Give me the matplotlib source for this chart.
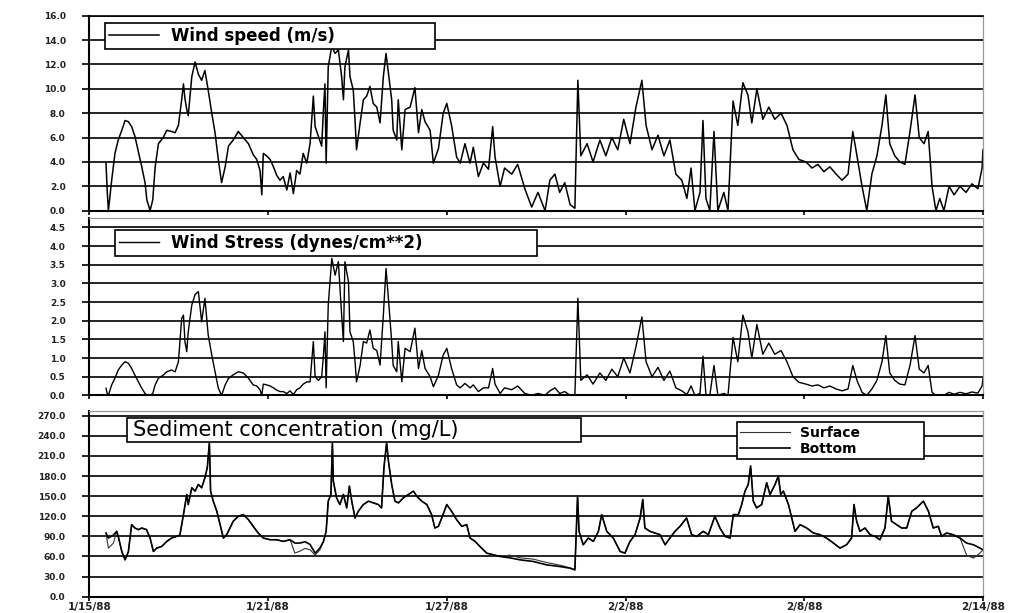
import matplotlib
matplotlib.use("Agg")
import matplotlib.pyplot as plt
from matplotlib.patches import Rectangle

# ---------------- data ----------------
tick_days = [0, 6, 12, 18, 24, 30]
tick_labels = ["1/15/88", "1/21/88", "1/27/88", "2/2/88", "2/8/88", "2/14/88"]

speed_ticks = [0, 2, 4, 6, 8, 10, 12, 14, 16]
stress_ticks = [0, 0.5, 1.0, 1.5, 2.0, 2.5, 3.0, 3.5, 4.0, 4.5]
sed_ticks = [0, 30, 60, 90, 120, 150, 180, 210, 240, 270]

# days since 1/15/88
wind_day = [
    0.56, 0.60, 0.64, 0.75, 0.86, 0.97, 1.09, 1.20, 1.31, 1.42,
    1.53, 1.65, 1.76, 1.87, 1.93, 2.04, 2.13, 2.21, 2.32, 2.48,
    2.60, 2.76, 2.88, 2.99, 3.10, 3.16, 3.21, 3.27, 3.32, 3.44,
    3.55, 3.66, 3.77, 3.88, 3.99, 4.11, 4.22, 4.33, 4.44, 4.56,
    4.67, 4.83, 5.00, 5.17, 5.34, 5.50, 5.62, 5.73, 5.79, 5.84,
    5.95, 6.07, 6.18, 6.29, 6.40, 6.51, 6.63, 6.74, 6.85, 6.96,
    7.07, 7.18, 7.30, 7.41, 7.52, 7.58, 7.69, 7.80, 7.86, 7.91,
    7.95, 8.02, 8.14, 8.25, 8.36, 8.47, 8.53, 8.58, 8.70, 8.75,
    8.86, 8.92, 8.97, 9.09, 9.20, 9.31, 9.42, 9.53, 9.65, 9.76,
    9.87, 9.96, 10.04, 10.15, 10.20, 10.32, 10.37, 10.49, 10.60, 10.77,
    10.93, 11.05, 11.16, 11.27, 11.44, 11.55, 11.72, 11.88, 12.00, 12.16,
    12.33, 12.45, 12.61, 12.78, 12.89, 13.06, 13.23, 13.40, 13.54, 13.62,
    13.79, 13.94, 14.18, 14.38, 14.62, 14.85, 15.06, 15.30, 15.46, 15.63,
    15.79, 15.96, 16.14, 16.30, 16.40, 16.50, 16.71, 16.91, 17.14, 17.34,
    17.54, 17.74, 17.94, 18.15, 18.35, 18.55, 18.69, 18.89, 19.09, 19.29,
    19.49, 19.69, 19.89, 20.06, 20.20, 20.33, 20.50, 20.60, 20.70, 20.83,
    20.97, 21.10, 21.30, 21.44, 21.61, 21.77, 21.94, 22.11, 22.24, 22.41,
    22.61, 22.81, 23.01, 23.22, 23.42, 23.62, 23.82, 24.06, 24.26, 24.46,
    24.66, 24.86, 25.07, 25.27, 25.47, 25.63, 25.77, 25.94, 26.10, 26.27,
    26.44, 26.61, 26.74, 26.87, 27.04, 27.21, 27.38, 27.55, 27.72, 27.86,
    28.02, 28.16, 28.29, 28.42, 28.55, 28.69, 28.86, 29.03, 29.23, 29.43,
    29.63, 29.83, 29.97, 30.00,
]

wind_speed = [
    3.9, 1.6, 0.0, 2.5, 4.7, 5.8, 6.6, 7.4, 7.3, 6.9,
    6.1, 4.8, 3.6, 2.3, 0.9, 0.0, 0.9, 3.6, 5.5, 6.0,
    6.6, 6.5, 6.4, 7.0, 9.1, 10.4, 9.2, 8.3, 7.8, 11.0,
    12.2, 11.2, 10.7, 11.5, 9.9, 8.0, 6.4, 4.2, 2.3, 3.6,
    5.3, 5.8, 6.5, 6.0, 5.5, 4.6, 4.2, 3.3, 1.3, 4.7,
    4.5, 4.2, 3.6, 2.9, 2.5, 2.8, 1.7, 3.1, 1.4, 3.3,
    3.0, 4.7, 3.9, 5.5, 9.4, 6.9, 6.1, 5.3, 8.3, 10.4,
    3.9, 11.8, 13.5, 12.9, 13.2, 11.0, 9.1, 11.8, 13.2, 11.0,
    9.9, 7.4, 5.0, 7.2, 9.1, 9.4, 10.2, 8.8, 8.5, 7.2,
    11.0, 12.9, 11.3, 9.1, 6.6, 5.8, 9.1, 5.0, 8.3, 8.5,
    10.1, 6.4, 8.3, 7.3, 6.6, 3.9, 5.1, 8.0, 8.8, 7.0,
    4.4, 3.9, 5.5, 3.9, 5.2, 2.8, 3.9, 3.4, 6.9, 4.4,
    2.0, 3.5, 3.0, 3.8, 1.8, 0.3, 1.5, 0.0, 2.5, 3.0,
    1.5, 2.3, 0.5, 0.2, 10.7, 4.5, 5.5, 4.0, 5.8, 4.5,
    6.0, 5.0, 7.5, 5.5, 8.5, 10.7, 7.0, 5.0, 6.2, 4.5,
    5.8, 3.0, 2.5, 1.0, 3.5, 0.0, 1.5, 7.4, 1.0, 0.0,
    6.5, 0.0, 1.5, 0.0, 9.0, 7.0, 10.5, 9.5, 7.2, 10.0,
    7.5, 8.5, 7.5, 8.0, 7.0, 5.0, 4.2, 4.0, 3.5, 3.8,
    3.2, 3.6, 3.0, 2.5, 3.0, 6.5, 4.5, 2.0, 0.0, 3.0,
    4.5, 7.0, 9.5, 5.5, 4.5, 4.0, 3.8, 6.5, 9.5, 6.0,
    5.5, 6.5, 2.0, 0.0, 1.0, 0.0, 2.0, 1.3, 2.0, 1.5,
    2.2, 1.8, 3.5, 5.0,
]

wind_stress = [
    0.19, 0.05, 0.0, 0.28, 0.46, 0.68, 0.81, 0.90, 0.86, 0.72,
    0.54, 0.36, 0.19, 0.05, 0.01, 0.0, 0.05, 0.28, 0.46, 0.54,
    0.63, 0.68, 0.63, 0.90, 2.06, 2.15, 1.44, 1.17, 1.70, 2.42,
    2.70, 2.78, 1.97, 2.60, 1.62, 1.08, 0.63, 0.19, 0.0, 0.28,
    0.45, 0.55, 0.63, 0.60, 0.46, 0.28, 0.25, 0.15, 0.0, 0.30,
    0.28, 0.25, 0.20, 0.14, 0.10, 0.10, 0.05, 0.12, 0.02, 0.15,
    0.20, 0.30, 0.36, 0.36, 1.44, 0.50, 0.40, 0.50, 1.08, 1.70,
    0.20, 2.42, 3.67, 3.22, 3.58, 2.15, 1.44, 3.58, 3.04, 1.70,
    1.44, 0.90, 0.36, 0.80, 1.44, 1.40, 1.75, 1.26, 1.20, 0.81,
    2.15, 3.40, 2.60, 1.44, 0.80, 0.63, 1.44, 0.36, 1.26, 1.17,
    1.80, 0.72, 1.20, 0.72, 0.50, 0.23, 0.54, 1.08, 1.26, 0.72,
    0.28, 0.20, 0.32, 0.20, 0.28, 0.10, 0.20, 0.20, 0.72, 0.30,
    0.05, 0.20, 0.15, 0.25, 0.05, 0.0, 0.05, 0.0, 0.12, 0.20,
    0.05, 0.10, 0.0, 0.0, 2.60, 0.40, 0.55, 0.30, 0.60, 0.40,
    0.70, 0.50, 1.00, 0.60, 1.30, 2.10, 0.90, 0.50, 0.75, 0.40,
    0.65, 0.20, 0.12, 0.02, 0.25, 0.0, 0.05, 1.05, 0.02, 0.0,
    0.80, 0.0, 0.05, 0.0, 1.55, 0.90, 2.15, 1.70, 1.00, 1.90,
    1.10, 1.40, 1.10, 1.20, 0.90, 0.50, 0.35, 0.30, 0.25, 0.28,
    0.20, 0.25, 0.17, 0.12, 0.17, 0.80, 0.40, 0.08, 0.0, 0.17,
    0.40, 0.90, 1.60, 0.60, 0.40, 0.30, 0.28, 0.80, 1.60, 0.70,
    0.60, 0.80, 0.08, 0.0, 0.02, 0.0, 0.08, 0.03, 0.08, 0.04,
    0.09, 0.06, 0.25, 0.45,
]

sed_day = [
    0.56, 0.64, 0.81, 0.92, 0.97, 1.09, 1.20, 1.31, 1.42, 1.53,
    1.65, 1.76, 1.92, 2.04, 2.15, 2.26, 2.43, 2.60, 2.76, 2.93,
    3.04, 3.16, 3.27, 3.32, 3.44, 3.55, 3.66, 3.77, 3.88, 3.96,
    4.03, 4.07, 4.16, 4.28, 4.39, 4.50, 4.61, 4.72, 4.83, 5.00,
    5.17, 5.34, 5.50, 5.67, 5.84, 6.07, 6.29, 6.51, 6.74, 6.90,
    7.07, 7.24, 7.41, 7.58, 7.74, 7.86, 7.95, 8.02, 8.11, 8.16,
    8.19, 8.30, 8.41, 8.53, 8.64, 8.73, 8.81, 8.92, 9.03, 9.20,
    9.37, 9.53, 9.70, 9.81, 9.89, 9.98, 10.04, 10.15, 10.26, 10.38,
    10.54, 10.71, 10.88, 10.99, 11.16, 11.33, 11.49, 11.60, 11.72, 11.83,
    12.00, 12.16, 12.33, 12.50, 12.67, 12.78, 12.95, 13.11, 13.34, 13.56,
    13.79, 14.12, 14.46, 14.91, 15.35, 15.80, 16.14, 16.30, 16.39, 16.44,
    16.58, 16.75, 16.92, 17.09, 17.20, 17.37, 17.59, 17.82, 17.98, 18.15,
    18.32, 18.49, 18.58, 18.65, 18.82, 18.99, 19.16, 19.33, 19.49, 19.66,
    19.83, 20.05, 20.22, 20.39, 20.61, 20.78, 21.00, 21.17, 21.34, 21.51,
    21.62, 21.79, 21.90, 22.01, 22.12, 22.20, 22.29, 22.40, 22.57, 22.74,
    22.85, 23.02, 23.13, 23.21, 23.30, 23.47, 23.58, 23.69, 23.86, 24.08,
    24.31, 24.53, 24.75, 24.98, 25.20, 25.42, 25.59, 25.67, 25.76, 25.87,
    26.04, 26.21, 26.38, 26.54, 26.71, 26.82, 26.93, 27.10, 27.27, 27.44,
    27.61, 27.77, 28.00, 28.17, 28.33, 28.50, 28.61, 28.78, 29.00, 29.23,
    29.45, 29.68, 29.90, 30.00,
]

sed_bottom = [
    95, 87.5, 92, 97.5, 90, 67.5, 55, 67, 107.5, 102.5,
    100, 102.5, 100, 87.5, 67.5, 72.5, 75, 82.5, 87.5, 90,
    92, 122.5, 152.5, 137.5, 162.5, 157.5, 167.5, 162.5, 177.5, 192.5,
    230, 157.5, 142.5, 127.5, 107.5, 87.5, 92.5, 102.5, 112.5, 120,
    122.5, 115, 105, 95, 87.5, 85, 85, 82.5, 85, 80,
    80, 82, 78, 65, 72.5, 82.5, 97.5, 142.5, 152.5, 230,
    172.5, 147.5, 137.5, 152.5, 132.5, 165, 142.5, 117.5, 127.5, 137.5,
    142.5, 140, 137.5, 132.5, 192.5, 230, 202.5, 167.5, 142.5, 140,
    147.5, 152.5, 157.5, 150, 142.5, 137.5, 122.5, 102.5, 105, 117.5,
    137.5, 127.5, 115, 105, 107.5, 87.5, 82.5, 75, 65, 62.5,
    60, 58, 55, 52.5, 47.5, 45, 42.5, 40, 150, 97.5,
    77.5, 87.5, 82.5, 97.5, 122.5, 97.5, 87.5, 67.5, 65, 82.5,
    92.5, 117.5, 145, 102.5, 97.5, 95, 92.5, 77.5, 87.5, 97.5,
    105, 117.5, 92.5, 90, 97.5, 92.5, 120, 102.5, 90, 87.5,
    122.5, 122.5, 137.5, 157.5, 167.5, 195, 142.5, 132.5, 137.5, 170,
    152.5, 167.5, 180, 152.5, 157.5, 137.5, 117.5, 97.5, 107.5, 102.5,
    95, 92.5, 87.5, 80, 72.5, 77.5, 87.5, 137.5, 112.5, 97.5,
    102.5, 92.5, 90, 85, 102.5, 150, 112.5, 107.5, 102.5, 102.5,
    127.5, 132.5, 142.5, 127.5, 102.5, 105, 90, 95, 92.5, 87.5,
    80, 77.5, 72.5, 70,
]

sed_surface = [
    95, 72.5, 80, 97.5, 90, 67.5, 55, 67, 107.5, 102.5,
    100, 102.5, 100, 87.5, 67.5, 72.5, 75, 82.5, 87.5, 90,
    92, 122.5, 152.5, 137.5, 162.5, 157.5, 167.5, 162.5, 177.5, 192.5,
    230, 157.5, 142.5, 127.5, 107.5, 87.5, 92.5, 102.5, 112.5, 120,
    122.5, 115, 105, 95, 87.5, 85, 85, 82.5, 85, 65,
    68, 72, 70, 62, 70, 82.5, 97.5, 142.5, 152.5, 230,
    172.5, 147.5, 137.5, 152.5, 132.5, 165, 142.5, 117.5, 127.5, 137.5,
    142.5, 140, 137.5, 132.5, 192.5, 230, 202.5, 167.5, 142.5, 140,
    147.5, 152.5, 157.5, 150, 142.5, 137.5, 122.5, 102.5, 105, 117.5,
    137.5, 127.5, 115, 105, 107.5, 87.5, 82.5, 75, 65, 62.5,
    60, 62, 58, 56, 51, 47, 43, 40, 150, 97.5,
    77.5, 87.5, 82.5, 97.5, 122.5, 97.5, 87.5, 67.5, 65, 82.5,
    92.5, 117.5, 145, 102.5, 97.5, 95, 92.5, 77.5, 87.5, 97.5,
    105, 117.5, 92.5, 90, 97.5, 92.5, 120, 102.5, 90, 87.5,
    122.5, 122.5, 137.5, 157.5, 167.5, 195, 142.5, 132.5, 137.5, 170,
    152.5, 167.5, 180, 152.5, 157.5, 137.5, 117.5, 97.5, 107.5, 102.5,
    95, 92.5, 87.5, 80, 72.5, 77.5, 87.5, 137.5, 112.5, 97.5,
    102.5, 92.5, 90, 85, 102.5, 150, 112.5, 107.5, 102.5, 102.5,
    127.5, 132.5, 142.5, 127.5, 102.5, 105, 90, 95, 92.5, 87.5,
    62, 57.5, 65, 70,
]

# ---------------- figure ----------------
fig = plt.figure(figsize=(10.28, 6.13), dpi=100)
L, W = 0.0869, 0.8693
ax1 = fig.add_axes([L, 0.6563, W, 0.3181])
ax2 = fig.add_axes([L, 0.3551, W, 0.2892])
ax3 = fig.add_axes([L, 0.0266, W, 0.3034])


def style(ax, yticks, ytop, show_x):
    ax.set_xlim(0, 30)
    ax.set_ylim(0, ytop)
    ax.set_yticks(yticks)
    ax.set_yticklabels([f"{v:.1f}" for v in yticks], fontsize=6.5,
                       fontweight="bold", color="#222222")
    ax.set_xticks(tick_days)
    if show_x:
        ax.set_xticklabels(tick_labels, fontsize=7.5, fontweight="bold",
                           color="#222222")
    else:
        ax.set_xticklabels([])
    ax.yaxis.grid(True, color="black", lw=1.2)
    ax.xaxis.grid(False)
    ax.set_axisbelow(True)
    for s in ("top", "right"):
        ax.spines[s].set_color("#999999")
        ax.spines[s].set_linewidth(0.9)
    for s in ("left", "bottom"):
        ax.spines[s].set_color("black")
        ax.spines[s].set_linewidth(1.5)
    ax.tick_params(axis="y", direction="out", length=5, width=1.2, pad=12)
    ax.tick_params(axis="x", direction="out", length=3, width=1.2, pad=0.5)


style(ax1, speed_ticks, 16, False)
ax1.spines["top"].set_color("black")
ax1.spines["top"].set_linewidth(1.2)
style(ax2, stress_ticks, 4.75, False)
style(ax3, sed_ticks, 277.5, True)

h1, = ax1.plot(wind_day, wind_speed, color="black", lw=1.1)
h2, = ax2.plot(wind_day, wind_stress, color="black", lw=1.0)
hs, = ax3.plot(sed_day, sed_surface, color="#333333", lw=0.8)
hb, = ax3.plot(sed_day, sed_bottom, color="black", lw=1.2)

leg_kw = dict(loc="upper left", mode="expand", borderaxespad=0,
              fancybox=False, edgecolor="black", framealpha=1,
              handletextpad=0.7, borderpad=0.25)

lg1 = ax1.legend([h1], ["Wind speed (m/s)"],
                 bbox_to_anchor=(0.0176, 0.70, 0.369, 0.262),
                 prop={"size": 12, "weight": "bold"}, handlelength=3.0,
                 **leg_kw)
lg1.get_frame().set_linewidth(1.2)

lg2 = ax2.legend([h2], ["Wind Stress (dynes/cm**2)"],
                 bbox_to_anchor=(0.0288, 0.70, 0.472, 0.232),
                 prop={"size": 12, "weight": "bold"}, handlelength=2.4,
                 **leg_kw)
lg2.get_frame().set_linewidth(1.2)

lg3 = ax3.legend([hs, hb], ["Surface", "Bottom"],
                 bbox_to_anchor=(0.7247, 0.60, 0.209, 0.339),
                 prop={"size": 10, "weight": "bold"}, handlelength=3.6,
                 labelspacing=0.15, **leg_kw)
lg3.get_frame().set_linewidth(1.2)

# title box of the sediment panel
ax3.add_patch(Rectangle((0.0421, 0.831), 0.508, 0.129,
                        transform=ax3.transAxes, fc="white", ec="black",
                        lw=1.2, zorder=9))
ax3.text(0.049, 0.895, "Sediment concentration (mg/L)",
         transform=ax3.transAxes, ha="left", va="center", fontsize=15,
         zorder=10)

fig.savefig("out.png", dpi=100)
